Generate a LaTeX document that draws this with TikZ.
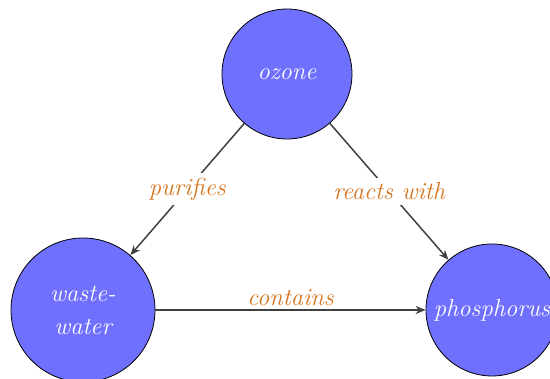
\documentclass[tikz,border=0pt]{standalone}
\usepackage[usenames,dvipsnames]{xcolor}
\usetikzlibrary{arrows.meta}

\definecolor{nodeblue}{RGB}{112,112,255}
\definecolor{labelorange}{RGB}{214,116,28}
\definecolor{edgegray}{RGB}{64,64,64}

\begin{document}
\begin{tikzpicture}[
    entity/.style = {draw, circle, fill=nodeblue, text=white, line width=0.8pt,
      minimum size=130pt, inner sep=2pt, align=center,
      font=\fontsize{24.5}{33}\selectfont\itshape},
    relation/.style = {-{Stealth[length=10pt, width=8pt]}, draw=edgegray, line width=1.5pt},
    rel label/.style = {text=labelorange, font=\fontsize{24.5}{28}\selectfont\itshape}
  ]
  \useasboundingbox (0,0) rectangle (550pt,379pt);

  % the three substances
  \node [entity] (ozone) at (287pt,305pt) {ozone};
  \node [entity, minimum size=144pt] (wastewater) at (83pt,69pt) {waste-\\water};
  \node [entity, minimum size=132pt] (phosphorus) at (492pt,69pt) {phosphorus};

  % how they relate
  \draw [relation] (ozone) -- node [rel label, fill=white, inner sep=5pt] {purifies} (wastewater);
  \draw [relation] (ozone) -- node [rel label, fill=white, inner sep=5pt] {reacts with} (phosphorus);
  \draw [relation] (wastewater) -- node [rel label, above] {contains} (phosphorus);
\end{tikzpicture}
\end{document}
